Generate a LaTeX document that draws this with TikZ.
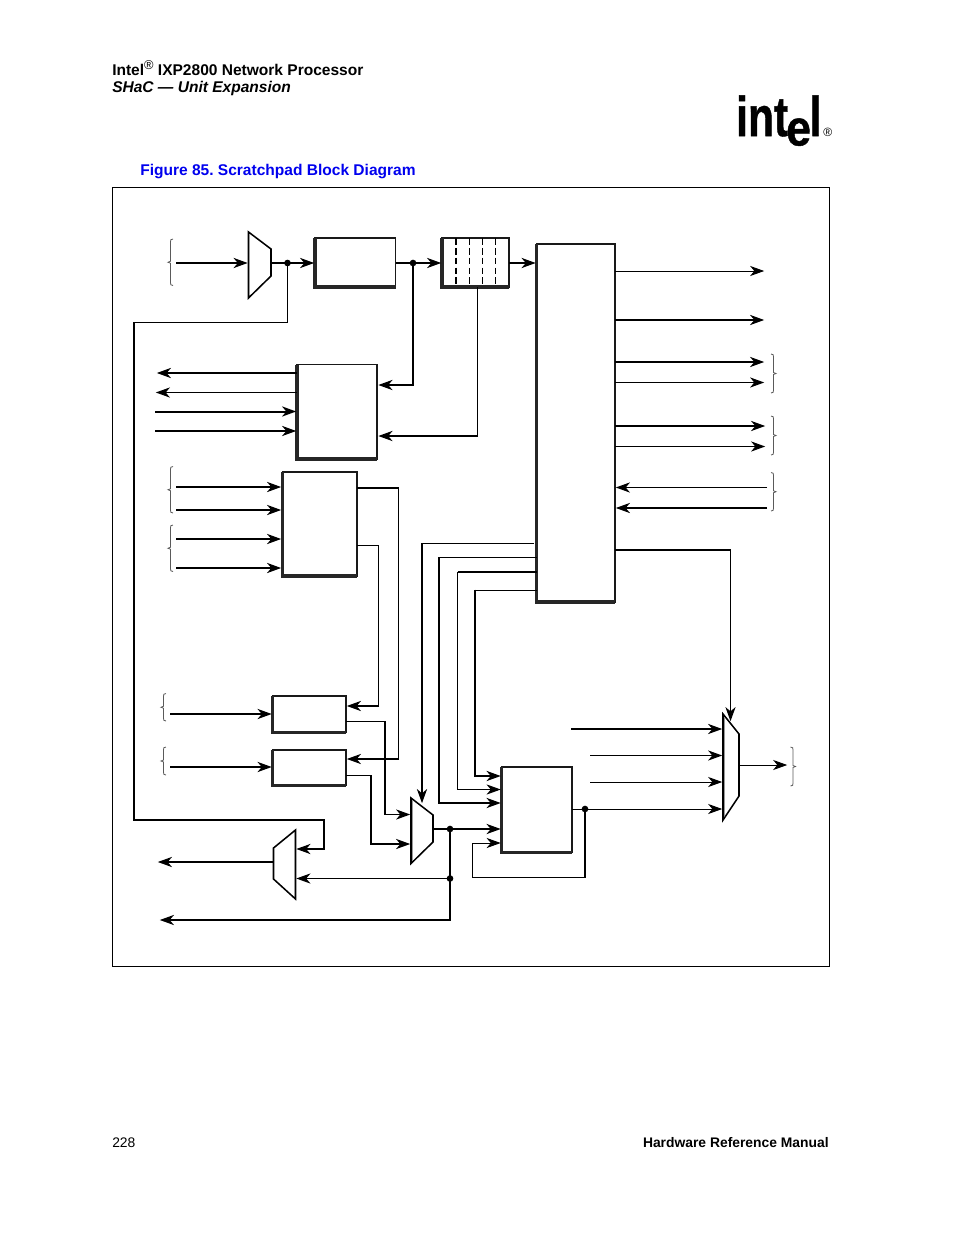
\documentclass[tikz,border=0pt]{standalone}
\usepackage{fontspec}
\setmainfont{Liberation Sans}
\newfontfamily\logofont[BoldFeatures={FakeBold=0.9}]{Liberation Sans}
\usetikzlibrary{arrows.meta}
\usetikzlibrary{calc}

\definecolor{figblue}{RGB}{0,0,238}
\definecolor{bracegray}{RGB}{90,90,90}

\tikzset{
    blockbox/.style={draw=black!90,line width=0.85pt,inner sep=0pt,outer sep=0pt},
    blockedge/.style={draw=black!85,line width=2.6pt,line cap=butt,line join=miter},
    muxedge/.style={draw=black,line width=1.15pt,line join=miter},
    muxshade/.style={draw=black!40,line width=0.8pt},
    sigline/.style={draw=black,line width=0.75pt},
    busline/.style={draw=black,line width=1.5pt},
    tip/.style={-{Stealth[length=10.6pt,width=7.6pt,inset=3.2pt]},shorten >=0.6pt},
    junction/.style={circle,fill=black,inner sep=0pt,outer sep=-1.5pt,minimum size=5pt},
    bracket/.style={draw=bracegray,line width=0.6pt},
    plaintext/.style={inner sep=0pt,anchor=base west,font=\fontsize{11.65}{13}\selectfont\bfseries},
}

\newcommand{\blockat}[5]{%
    \node[blockbox,minimum width={(#4-#2)*0.75pt},minimum height={(#5-#3)*0.75pt}]
        (#1) at ({(#2+#4)/2},{(#3+#5)/2}) {};
    \draw[blockedge] (#1.north west) -- (#1.south west) -- (#1.south east);
}
\newcommand{\muxat}[7]{%
    \node[inner sep=0pt,outer sep=0pt,minimum width={(#3-#2)*0.75pt},
        minimum height={(max(#6,#7)-min(#4,#5))*0.75pt}]
        (#1) at ({(#2+#3)/2},{(max(#6,#7)+min(#4,#5))/2}) {};
    \draw[muxedge] (#2,#4) -- (#3,#5) -- (#3,#6) -- (#2,#7) -- cycle;
}
\newcommand{\braceleft}[3]{%
    \draw[bracket] (#1+5,#2) .. controls (#1+2.5,#2) and (#1+2.5,#2+1) .. (#1+2.5,#2+3)
        -- (#1+2.5,{(#2+#3)/2-1}) -- (#1,{(#2+#3)/2}) -- (#1+2.5,{(#2+#3)/2+1})
        -- (#1+2.5,#3-3) .. controls (#1+2.5,#3-1) and (#1+2.5,#3) .. (#1+5,#3);
}
\newcommand{\braceright}[3]{%
    \draw[bracket] (#1,#2) .. controls (#1+2.5,#2) and (#1+2.5,#2+1) .. (#1+2.5,#2+3)
        -- (#1+2.5,{(#2+#3)/2-1}) -- (#1+5,{(#2+#3)/2}) -- (#1+2.5,{(#2+#3)/2+1})
        -- (#1+2.5,#3-3) .. controls (#1+2.5,#3-1) and (#1+2.5,#3) .. (#1,#3);
}

\begin{document}
\frenchspacing
\begin{tikzpicture}[x=0.75pt,y=-0.75pt]
                \useasboundingbox (0,0) rectangle (954,1235);

                \node[plaintext] (HeadA) at (112,75) {Intel\raisebox{0.36em}{\fontsize{9.6}{10}\selectfont\mdseries ®} IXP2800 Network Processor};
                \node[plaintext,font=\fontsize{11.65}{13}\selectfont\bfseries\itshape] (HeadB) at (112,92) {SHaC — Unit Expansion};
                \node[plaintext,text=figblue] (Title) at (140,175) {Figure 85. Scratchpad Block Diagram};
                \node[plaintext,font=\fontsize{10.4}{12}\selectfont\mdseries] (Page) at (112,1147) {228};
                \node[plaintext,anchor=base east,font=\fontsize{10.4}{12}\selectfont\bfseries] (Manual) at (829,1147) {Hardware Reference Manual};

                \node[plaintext,font=\fontsize{42}{42}\logofont\bfseries,xscale=0.76] (LogoA) at (736,136) {int};
                \node[plaintext,font=\fontsize{38}{38}\logofont\bfseries,xscale=0.88] (LogoB) at (786,145.5) {e};
                \node[plaintext,font=\fontsize{42}{42}\logofont\bfseries,xscale=0.76] (LogoC) at (809.5,136) {l};
                \node[plaintext,font=\fontsize{9}{9}\selectfont\mdseries] (LogoD) at (823,136) {®};

                \draw[black,line width=0.65pt] (112.5,187.5) rectangle (829.5,966.5);

                \blockat{Reg}{315}{238}{395.5}{287}
                \blockat{Fifo}{442}{238}{509}{287}
                \blockat{Ram}{536.5}{244}{615}{602}
                \blockat{Ctrl}{297}{364.5}{377}{459}
                \blockat{Arb}{282.5}{472}{357}{576}
                \blockat{Hold}{272.5}{696}{346}{732.5}
                \blockat{Shift}{272.5}{750}{346}{785.5}
                \blockat{Alu}{501.5}{767}{572}{852.5}

                \muxat{MuxA}{248.5}{271}{232}{249}{276}{298}
                \muxat{MuxB}{273.5}{295.5}{848}{830}{899}{879}
                \muxat{MuxC}{411}{433}{798}{815}{842}{863.5}
                \muxat{MuxD}{723}{739}{714}{734}{796}{820}

                \draw[muxshade] (249.8,234) -- (249.8,295);
                \draw[muxshade] (294.2,833) -- (294.2,896);
                \draw[muxshade] (412.3,800) -- (412.3,861);
                \draw[muxshade] (724.3,717) -- (724.3,816);

                \foreach \lx/\lw in {456/1.3pt,469.5/0.8pt,482.5/0.8pt,495.5/0.8pt}
                    \draw[black,dash pattern=on 5pt off 2.4pt,line width=\lw] (\lx,238) -- (\lx,286);

                \coordinate (InA) at (176,263);
                \coordinate (InB1) at (176,487);
                \coordinate (InB2) at (176,510);
                \coordinate (InB3) at (176,539);
                \coordinate (InB4) at (176,568);
                \coordinate (InC1) at (170,714);
                \coordinate (InC2) at (170,767);
                \coordinate (CtlO1) at (156,373);
                \coordinate (CtlO2) at (155,392.5);
                \coordinate (CtlI1) at (155,411.5);
                \coordinate (CtlI2) at (155,431);
                \coordinate (OutA) at (765,271);
                \coordinate (OutB) at (765,320);
                \coordinate (OutC) at (765,362);
                \coordinate (OutD) at (765,382.5);
                \coordinate (OutE) at (766,426);
                \coordinate (OutF) at (766,446.5);
                \coordinate (RetA) at (767,487.5);
                \coordinate (RetB) at (767,508);
                \coordinate (MemA) at (571,729);
                \coordinate (MemB) at (590,755.5);
                \coordinate (MemC) at (590,782);
                \coordinate (OutG) at (788,765);
                \coordinate (OutH) at (157,862);
                \coordinate (OutJ) at (159,920);

                \node[junction] (JoinA) at (287.5,263) {};
                \node[junction] (JoinB) at (413,263) {};
                \node[junction] (JoinC) at (450,829) {};
                \node[junction] (JoinD) at (450,878.5) {};
                \node[junction] (JoinE) at (585,809) {};

                \draw[busline,tip] (InA) -- (InA -| MuxA.west);
                \draw[busline] (JoinA -| MuxA.east) -- (JoinA);
                \draw[busline,tip] (JoinA) -- (JoinA -| Reg.west);
                \draw[busline] (JoinB -| Reg.east) -- (JoinB);
                \draw[busline,tip] (JoinB) -- (JoinB -| Fifo.west);
                \draw[busline,tip] (JoinB -| Fifo.east) -- (JoinB -| Ram.west);

                \draw[sigline] (JoinA) -- (287.5,322.5) -- (134,322.5);
                \draw[busline] (134,322) -- (134,820) -- (324,820) -- (324,849);
                \draw[busline,tip] (324.7,849) -- (324,849 -| MuxB.east);

                \draw[busline] (JoinB) -- (413,385);
                \draw[busline,tip,shorten >=1pt] (413.7,385) -- (413,385 -| Ctrl.east);
                \draw[sigline] (477.5,287) -- (477.5,436);
                \draw[busline,tip,shorten >=1pt] (478,436) -- (478,436 -| Ctrl.east);

                \draw[busline,tip] (CtlO1 -| Ctrl.west) -- (CtlO1);
                \draw[sigline,tip] (CtlO2 -| Ctrl.west) -- (CtlO2);
                \draw[busline,tip] (CtlI1) -- (CtlI1 -| Ctrl.west);
                \draw[busline,tip] (CtlI2) -- (CtlI2 -| Ctrl.west);

                \foreach \lin in {InB1,InB2,InB3,InB4}
                    \draw[busline,tip,shorten >=1pt] (\lin) -- (\lin -| Arb.west);

                \draw[busline,tip] (InC1) -- (InC1 -| Hold.west);
                \draw[busline,tip] (InC2) -- (InC2 -| Shift.west);

                \draw[sigline,tip] (OutA -| Ram.east) -- (OutA);
                \draw[busline,tip] (OutB -| Ram.east) -- (OutB);
                \draw[busline,tip] (OutC -| Ram.east) -- (OutC);
                \draw[sigline,tip] (OutD -| Ram.east) -- (OutD);
                \draw[busline,tip] (OutE -| Ram.east) -- (OutE);
                \draw[sigline,tip] (OutF -| Ram.east) -- (OutF);
                \draw[sigline,tip] (RetA) -- (RetA -| Ram.east);
                \draw[busline,tip] (RetB) -- (RetB -| Ram.east);

                \draw[busline] (Ram.east |- 0,550) -- (730.5,550);
                \draw[sigline,tip] (730.5,549.5) -- (730.5,722);

                \draw[sigline] (534,543.5) -- (422,543.5);
                \draw[busline,tip] (422,543) -- (422,804);
                \draw[sigline] (Ram.west |- 0,557.5) -- (439,557.5);
                \draw[busline] (439,557) -- (439,803);
                \draw[busline,tip] (438.3,803) -- (439,803 -| Alu.west);
                \draw[busline] (Ram.west |- 0,572) -- (457.5,572);
                \draw[sigline] (457.5,571.5) -- (457.5,789.5);
                \draw[sigline,tip] (457.2,789.5) -- (457,789.5 -| Alu.west);
                \draw[sigline] (Ram.west |- 0,590) -- (475,590);
                \draw[busline] (475,589.5) -- (475,776);
                \draw[busline,tip] (474.3,776) -- (474,776 -| Alu.west);

                \draw[busline] (Arb.east |- 0,488) -- (398.5,488);
                \draw[sigline] (398.5,487.5) -- (398.5,759);
                \draw[busline,tip] (399,759) -- (398,759 -| Shift.east);
                \draw[sigline] (Arb.east |- 0,545.5) -- (378.5,545.5) -- (378.5,706);
                \draw[busline,tip] (379,706) -- (378,706 -| Hold.east);

                \draw[sigline] (Hold.east |- 0,721.5) -- (385,721.5);
                \draw[busline] (385,721) -- (385,814.5);
                \draw[sigline,tip] (384.5,814.5) -- (384,814.5 -| MuxC.west);
                \draw[sigline] (Shift.east |- 0,775.5) -- (371,775.5);
                \draw[busline] (371,775) -- (371,844);
                \draw[busline,tip] (370.3,844) -- (370,844 -| MuxC.west);

                \draw[busline] (JoinC -| MuxC.east) -- (JoinC);
                \draw[busline,tip] (JoinC) -- (JoinC -| Alu.west);
                \draw[busline] (JoinC) -- (450,920);
                \draw[busline,tip] (450.7,920) -- (OutJ);
                \draw[sigline,tip] (JoinD) -- (JoinD -| MuxB.east);
                \draw[busline,tip] (OutH -| MuxB.west) -- (OutH);

                \draw[sigline] (JoinE -| Alu.east) -- (JoinE);
                \draw[sigline,tip] (JoinE) -- (JoinE -| MuxD.west);
                \draw[busline] (JoinE) -- (585,877.5);
                \draw[sigline] (585.5,877.5) -- (472.5,877.5) -- (472.5,843);
                \draw[sigline,tip] (472,843) -- (472,843 -| Alu.west);

                \draw[busline,tip] (MemA) -- (MemA -| MuxD.west);
                \draw[sigline,tip] (MemB) -- (MemB -| MuxD.west);
                \draw[sigline,tip] (MemC) -- (MemC -| MuxD.west);
                \draw[sigline,tip] (MuxD.east |- OutG) -- (OutG);

                \braceleft{168}{239}{285.5}
                \braceleft{168}{466.5}{513}
                \braceleft{168}{525}{571.5}
                \braceleft{161}{693.5}{721}
                \braceleft{161}{747}{775}
                \braceright{771}{354}{393}
                \braceright{771}{416}{455}
                \braceright{771}{472.5}{511}
                \braceright{790.5}{747}{786}
            \end{tikzpicture}
\end{document}
